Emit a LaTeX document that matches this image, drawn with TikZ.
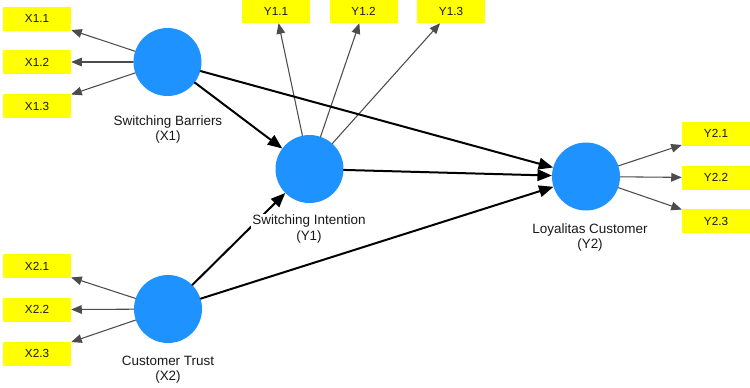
\documentclass[tikz,border=0pt]{standalone}
\usepackage{fontspec}
\setmainfont{Liberation Sans}
\usetikzlibrary{arrows}
\definecolor{latblue}{RGB}{30,146,255}
\definecolor{indyellow}{RGB}{255,255,0}
\tikzset{
  latent/.style={circle, fill=latblue, minimum size=51pt, inner sep=0pt},
  indic/.style={rectangle, fill=indyellow, minimum width=51pt, minimum height=18pt, inner sep=0pt, text=black!90, font=\fontsize{8.8}{10}\selectfont},
  inner/.style={->, line width=1.5pt, black},
  outer/.style={->, line width=0.8pt, black!70},
  latlabel/.style={align=center, fill=white, inner sep=1pt, text=black!90, font=\fontsize{10.1}{11.5}\selectfont}
}
\begin{document}
\begin{tikzpicture}[line cap=round,line join=round,>=triangle 45,x=0.75pt,y=-0.75pt]
\useasboundingbox (0,0) rectangle (750,387);
%latent variables
    \node[latent] at (167.5, 62)   (X1) {};
    \node[latent] at (168, 309)    (X2) {};
    \node[latent] at (309.5, 169)  (Y1) {};
    \node[latent] at (586, 176.5)  (Y2) {};
%indicators X1
    \node[indic] at (37, 18.7)   (X11) {X1.1};
    \node[indic] at (37, 62)     (X12) {X1.2};
    \node[indic] at (37, 106)    (X13) {X1.3};
%indicators X2
    \node[indic] at (37, 266.3)  (X21) {X2.1};
    \node[indic] at (37, 309.7)  (X22) {X2.2};
    \node[indic] at (37, 353.7)  (X23) {X2.3};
%indicators Y1
    \node[indic] at (276, 11)    (Y11) {Y1.1};
    \node[indic] at (363.5, 11)  (Y12) {Y1.2};
    \node[indic] at (451, 11)    (Y13) {Y1.3};
%indicators Y2
    \node[indic] at (716, 133.7) (Y21) {Y2.1};
    \node[indic] at (716, 177.7) (Y22) {Y2.2};
    \node[indic] at (716, 221.3) (Y23) {Y2.3};
%%%%outer loadings
\foreach \i in {1,2,3} {
  \draw [outer] (X1) -- (X1\i);
  \draw [outer] (X2) -- (X2\i);
  \draw [outer] (Y1) -- (Y1\i);
  \draw [outer] (Y2) -- (Y2\i);
}
%%%%paths
\draw [inner] (X1) -- (Y1);%barriers to intention
\draw [inner] (X1) -- (Y2);%barriers to loyalty
\draw [inner] (Y1) -- (Y2);%intention to loyalty
\draw [inner] (X2) -- (Y1);%trust to intention
\draw [inner] (X2) -- (Y2);%trust to loyalty
%labels
    \node[latlabel] at (168, 129.5)  (lX1) {Switching Barriers\\(X1)};
    \node[latlabel] at (168, 369.5)  (lX2) {Customer Trust\\(X2)};
    \node[latlabel] at (309, 229)    (lY1) {Switching Intention\\(Y1)};
    \node[latlabel] at (590, 237.5)  (lY2) {Loyalitas Customer\\(Y2)};
\end{tikzpicture}
\end{document}
